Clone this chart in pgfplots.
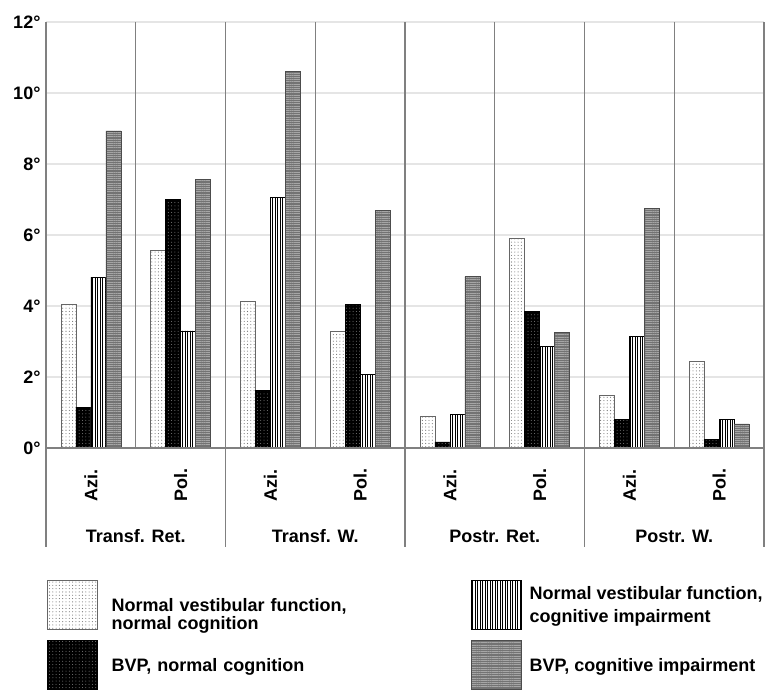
\documentclass[border=0pt]{standalone}
\usepackage{pgfplots}
\pgfplotsset{compat=1.18}
\usepackage{pgfplotstable}
\usepackage{fontspec}
\setmainfont{Liberation Sans}
\usetikzlibrary{patterns.meta}

\newcommand\lab{\fontsize{18}{20}\selectfont\bfseries}
\newcommand\leg{\fontsize{18}{21}\selectfont\bfseries}

% x = sub-category position (Azi./Pol. within each task)
\pgfplotstableread{
x    y
0.5  4.06
1.5  5.57
2.5  4.13
3.5  3.28
4.5  0.89
5.5  5.90
6.5  1.48
7.5  2.43
}\normnorm
\pgfplotstableread{
x    y
0.5  1.15
1.5  7.00
2.5  1.61
3.5  4.04
4.5  0.17
5.5  3.85
6.5  0.81
7.5  0.23
}\bvpnorm
\pgfplotstableread{
x    y
0.5  4.81
1.5  3.30
2.5  7.07
3.5  2.07
4.5  0.94
5.5  2.85
6.5  3.15
7.5  0.81
}\normcog
\pgfplotstableread{
x    y
0.5  8.93
1.5  7.56
2.5  10.60
3.5  6.70
4.5  4.83
5.5  3.25
6.5  6.74
7.5  0.68
}\bvpcog

\colorlet{sep}{black!50}

\pgfplotsset{
  legfirst/.style={legend image code/.code={%
    \draw[##1] (0pt,-24.5pt) rectangle (50pt,24.5pt); \path (56pt,0pt);}},
  legsecond/.style={legend image code/.code={%
    \draw[##1] (0pt,-24.5pt) rectangle (50pt,24.5pt);}},
}

\begin{document}
\begin{tikzpicture}
\begin{axis}[
  scale only axis,
  width=718pt, height=426pt,
  xmin=0, xmax=8, ymin=0, ymax=12,
  ybar=0pt, bar width=15pt,
  axis line style={draw=none},
  ymajorgrids,
  major grid style={black!10, line width=1.2pt},
  ytick={0,2,...,12},
  yticklabels={0°,2°,4°,6°,8°,10°,12°},
  xtick={0.5,1.5,...,7.5},
  xticklabels={Azi.,Pol.,Azi.,Pol.,Azi.,Pol.,Azi.,Pol.},
  major tick length=0pt,
  tick label style={font=\lab},
  yticklabel style={xshift=-2pt},
  xticklabel style={rotate=90, anchor=west, inner sep=0pt},
  xticklabel shift=54pt,
  clip=false,
  legend columns=2,
  transpose legend,
  legend cell align=left,
  legend style={
    at={(0,0)}, anchor=north west, xshift=1pt, yshift=-132pt,
    draw=none, fill=none, inner sep=0pt, outer sep=0pt,
    font=\leg, row sep=10.5pt,
    nodes={inner sep=0pt, align=left},
    /tikz/every odd column/.append style={column sep=8pt},
    /tikz/column 2/.style={text width=359.3pt},
  },
]
\coordinate (O) at (rel axis cs:0,0);

\addplot[draw=black!60, line width=0.7pt, fill=white,
  postaction={pattern={Dots[distance=3.3pt,radius=0.55pt]}, pattern color=black!55},
  legfirst]
  table[x=x,y=y] {\normnorm};
\addlegendentry[anchor=north west, yshift=6.5pt]{Normal vestibular function,\\[-3.3pt]normal cognition}

\addplot[draw=black, line width=0.7pt, fill=black,
  postaction={pattern={Dots[distance=3.3pt,radius=0.5pt]}, pattern color=black!50},
  legfirst]
  table[x=x,y=y] {\bvpnorm};
\addlegendentry[anchor=north west, yshift=7pt]{BVP, normal cognition}

\addplot[draw=black, line width=0.7pt, fill=white,
  postaction={pattern={Lines[angle=90,distance=2.5pt,line width=0.9pt]}, pattern color=black},
  legsecond]
  table[x=x,y=y] {\normcog};
\addlegendentry[anchor=north west, yshift=18.6pt]{Normal vestibular function,\\[2.5pt]cognitive impairment}

\addplot[draw=black!70, line width=0.7pt, fill=black!55,
  postaction={pattern={Lines[angle=0,distance=2.2pt,line width=0.5pt]}, pattern color=black!35},
  legsecond]
  table[x=x,y=y] {\bvpcog};
\addlegendentry[anchor=north west, yshift=7pt]{BVP, cognitive impairment}

% separators between sub-categories and between tasks
\pgfplotsinvokeforeach{1,3,5,7}{
  \draw[sep, line width=1.1pt] (axis cs:#1,12) -- (axis cs:#1,0);
}
\pgfplotsinvokeforeach{0,2,4,6,8}{
  \draw[sep, line width=1.1pt] (axis cs:#1,12) -- (axis cs:#1,0) -- ++(0pt,-99pt);
}
\draw[sep, line width=1.1pt] (axis cs:0,0) -- (axis cs:8,0);

% task labels
\node[font=\lab, anchor=base] at ([yshift=-94pt]axis cs:1,0) {Transf. Ret.};
\node[font=\lab, anchor=base] at ([yshift=-94pt]axis cs:3,0) {Transf. W.};
\node[font=\lab, anchor=base] at ([yshift=-94pt]axis cs:5,0) {Postr. Ret.};
\node[font=\lab, anchor=base] at ([yshift=-94pt]axis cs:7,0) {Postr. W.};
\end{axis}
\pgfresetboundingbox
\path[use as bounding box] ([xshift=-46pt,yshift=-243pt]O) rectangle ([xshift=723pt,yshift=448pt]O);
\end{tikzpicture}
\end{document}
